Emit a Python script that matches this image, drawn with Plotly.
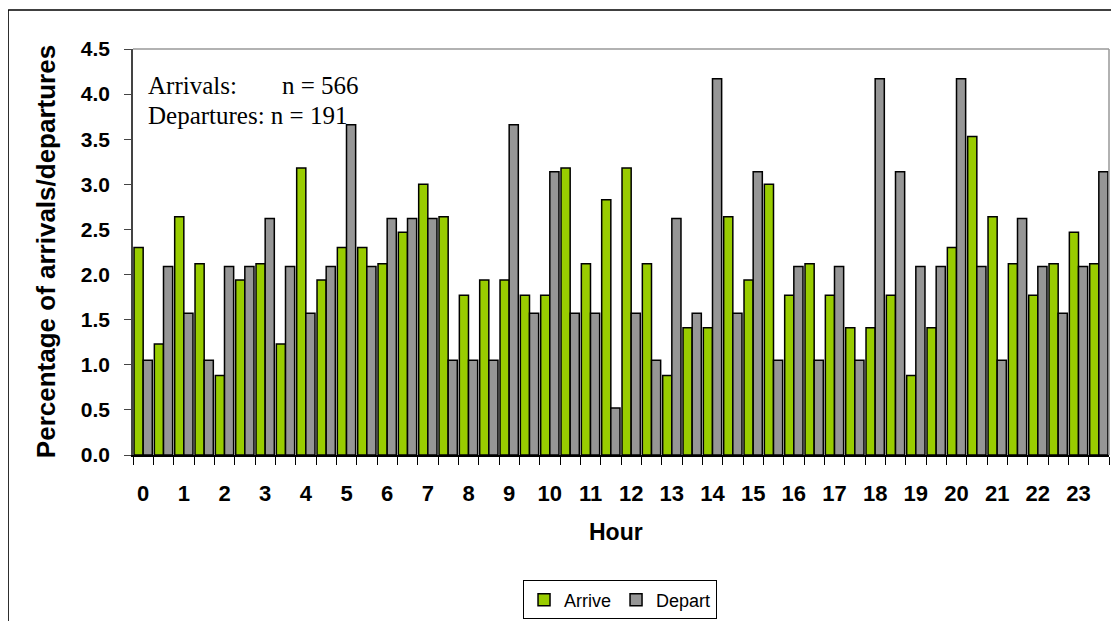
import plotly.graph_objects as go

# half-hour bins, labelled by the hour they start in
half_hours = [h / 2 for h in range(48)]
hour_ticks = list(range(24))
hour_labels = [str(h) for h in hour_ticks]

# percentage of all arrivals (n=566) / departures (n=191) in each half-hour bin
arrive = [2.30, 1.23, 2.64, 2.12, 0.88, 1.94, 2.12, 1.23, 3.18, 1.94, 2.30, 2.30,
          2.12, 2.47, 3.00, 2.64, 1.77, 1.94, 1.94, 1.77, 1.77, 3.18, 2.12, 2.83,
          3.18, 2.12, 0.88, 1.41, 1.41, 2.64, 1.94, 3.00, 1.77, 2.12, 1.77, 1.41,
          1.41, 1.77, 0.88, 1.41, 2.30, 3.53, 2.64, 2.12, 1.77, 2.12, 2.47, 2.12]
depart = [1.05, 2.09, 1.57, 1.05, 2.09, 2.09, 2.62, 2.09, 1.57, 2.09, 3.66, 2.09,
          2.62, 2.62, 2.62, 1.05, 1.05, 1.05, 3.66, 1.57, 3.14, 1.57, 1.57, 0.52,
          1.57, 1.05, 2.62, 1.57, 4.17, 1.57, 3.14, 1.05, 2.09, 1.05, 2.09, 1.05,
          4.17, 3.14, 2.09, 2.09, 4.17, 2.09, 1.05, 2.62, 2.09, 1.57, 2.09, 3.14]

bold = dict(family="Liberation Sans", size=22, color="black", weight="bold")

fig = go.Figure()
fig.add_trace(go.Bar(x=half_hours, y=arrive, name="Arrive",
                     marker=dict(color="#99CC00", line=dict(color="black", width=1.5))))
fig.add_trace(go.Bar(x=half_hours, y=depart, name="Depart",
                     marker=dict(color="#969696", line=dict(color="black", width=1.5))))

# page body has an 8px margin, so the figure is 8px smaller than the window
fig.update_layout(
    width=1111, height=613,
    margin=dict(l=125, r=10, t=41, b=166, autoexpand=False),
    paper_bgcolor="white", plot_bgcolor="white",
    barmode="group", bargap=0.1, bargroupgap=0,
    font=dict(family="Liberation Sans", color="black"),
    showlegend=True,
    legend=dict(orientation="h", x=0.499, y=-0.357, xanchor="center", yanchor="middle",
                bordercolor="black", borderwidth=1, bgcolor="white",
                font=dict(family="Liberation Sans", size=18, color="black"),
                itemwidth=30, traceorder="normal"),
)

fig.update_xaxes(
    range=[-0.25, 23.75], tickvals=hour_ticks, ticktext=hour_labels,
    ticks="", tickfont=bold, ticklabelstandoff=18,
    minor=dict(tick0=-0.25, dtick=0.5, ticks="outside", ticklen=8, tickcolor="black", tickwidth=1),
    showline=True, linecolor="black", linewidth=1.5, showgrid=False, zeroline=False,
)
fig.update_yaxes(
    range=[0, 4.5], dtick=0.5, tickformat=".1f",
    ticks="outside", ticklen=7, tickcolor="#444", tickfont=dict(bold, size=21),
    ticklabelstandoff=10,
    showline=True, linecolor="#444", linewidth=1.5, showgrid=False, zeroline=False,
)

# axis titles
fig.add_annotation(text="Hour", xref="paper", yref="paper", x=0.495, y=-0.19,
                   showarrow=False, font=dict(bold, size=23), xanchor="center", yanchor="middle")
fig.add_annotation(text="Percentage of arrivals/departures", xref="paper", yref="paper",
                   x=-0.089, y=0.5, textangle=-90, showarrow=False,
                   font=dict(bold, size=26), xanchor="center", yanchor="middle")

# sample sizes
serif = dict(family="Liberation Serif", size=25, color="black")
fig.add_annotation(text="Arrivals:", xref="paper", yref="paper", x=0.013, y=0.911,
                   showarrow=False, font=serif, xanchor="left", yanchor="middle")
fig.add_annotation(text="n = 566", xref="paper", yref="paper", x=0.151, y=0.911,
                   showarrow=False, font=serif, xanchor="left", yanchor="middle")
fig.add_annotation(text="Departures: n = 191", xref="paper", yref="paper", x=0.013, y=0.837,
                   showarrow=False, font=serif, xanchor="left", yanchor="middle")

# grey plot-area border on top and right
fig.add_shape(type="line", xref="paper", yref="paper", x0=0, x1=1, y0=1, y1=1,
              line=dict(color="#999999", width=1.5))
fig.add_shape(type="line", xref="paper", yref="paper", x0=1, x1=1, y0=0, y1=1,
              line=dict(color="#999999", width=1.5))
# outer chart frame (runs off the right and bottom edges)
fig.add_shape(type="line", xref="paper", yref="paper", x0=-0.128, x1=1.1, y0=1.096, y1=1.096,
              line=dict(color="black", width=1.5))
fig.add_shape(type="line", xref="paper", yref="paper", x0=-0.128, x1=-0.128, y0=-0.5, y1=1.096,
              line=dict(color="black", width=1.5))

fig.write_html("out.html")
